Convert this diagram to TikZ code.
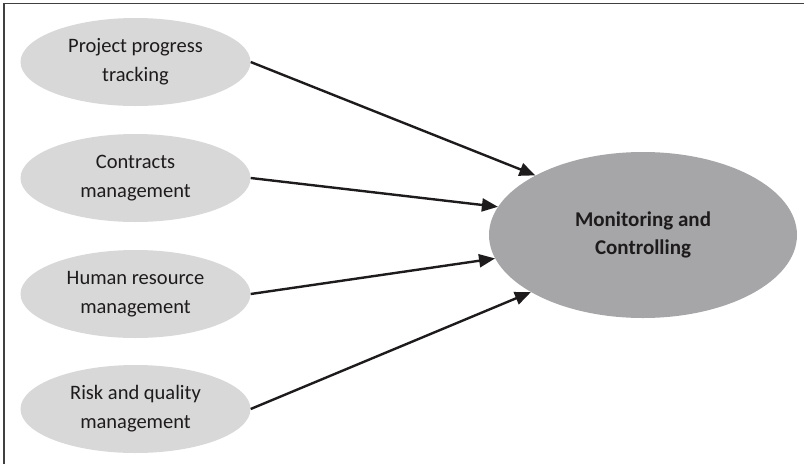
\documentclass[tikz,border=0pt]{standalone}
\usepackage{fontspec}
\setmainfont{Carlito}
\usetikzlibrary{arrows.meta,shapes.geometric}
\definecolor{smallfill}{RGB}{216,216,216}
\definecolor{bigfill}{RGB}{166,166,168}
\definecolor{txt}{RGB}{30,27,28}
\begin{document}
\begin{tikzpicture}[x=1pt,y=-1pt,
  small/.style={ellipse,fill=smallfill,minimum width=230pt,minimum height=88pt,inner sep=0pt,align=center,text=txt,font=\fontsize{20.5}{29}\selectfont},
  big/.style={ellipse,fill=bigfill,minimum width=308pt,minimum height=166pt,inner sep=0pt,align=center,text=txt,font=\fontsize{21}{28}\selectfont\bfseries},
  link/.style={line width=2.4pt,draw=txt,-{Triangle[length=16pt,width=13pt]}},
  frame/.style={line width=1.5pt,draw=black!75}]
\useasboundingbox (0,0) rectangle (804,464);
\coordinate (ftl) at (4,3.5);
\coordinate (ftr) at (804,3.5);
\coordinate (fbl) at (4,464);
\draw[frame] (fbl) -- (ftl) -- (ftr);
\node[small] (a) at (135.5,62) {Project progress\\tracking};
\node[small] (b) at (135.5,178) {Contracts\\management};
\node[small] (c) at (135.5,294) {Human resource\\management};
\node[small] (d) at (135.5,409) {Risk and quality\\management};
\node[big] (m) at (643,235) {Monitoring and\\Controlling};
\draw[link] (a.east) -- (m.151.6);
\draw[link] (b.east) -- (m.169.7);
\draw[link] (c.east) -- (m.189.6);
\draw[link] (d.east) -- (m.207);
\end{tikzpicture}
\end{document}
